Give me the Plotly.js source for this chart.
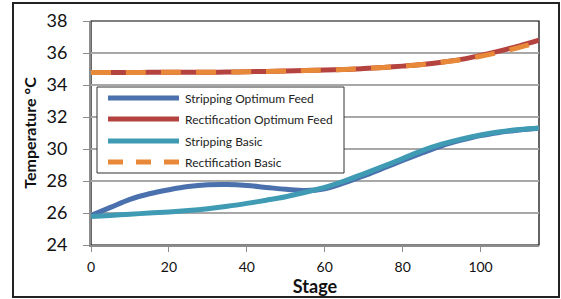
<!DOCTYPE html>
<html>
<head>
<meta charset="utf-8">
<script src="https://cdn.plot.ly/plotly-3.0.1.min.js"></script>
<style>
html,body{margin:0;padding:0;background:#fff;}
#wrap{position:relative;width:561px;height:299px;}
#chart{width:561px;height:299px;}
#frame{position:absolute;left:12px;top:2px;width:544px;height:292px;border:2px solid #222;pointer-events:none;}
</style>
</head>
<body>
<div id="wrap"><div id="chart"></div><div id="frame"></div></div>
<script>
const stages = [0,5,10,15,20,25,30,35,40,45,50,55,60,65,70,75,80,85,90,95,100,105,110,115];
const seriesNames = ["Stripping Optimum Feed","Rectification Optimum Feed","Stripping Basic","Rectification Basic"];
const strippingOptimum = [25.85,26.35,26.85,27.2,27.45,27.65,27.76,27.78,27.72,27.6,27.48,27.4,27.52,27.88,28.32,28.8,29.28,29.75,30.2,30.55,30.84,31.04,31.19,31.3];
const rectificationOptimum = [34.78,34.78,34.78,34.79,34.79,34.8,34.8,34.81,34.83,34.85,34.87,34.9,34.93,34.97,35.03,35.1,35.18,35.28,35.42,35.6,35.85,36.13,36.45,36.8];
const strippingBasic = [25.78,25.85,25.92,26.0,26.06,26.15,26.27,26.42,26.6,26.8,27.02,27.3,27.6,28.0,28.45,28.92,29.4,29.9,30.3,30.62,30.88,31.08,31.22,31.32];
const rectificationBasic = [34.78,34.78,34.78,34.79,34.79,34.8,34.8,34.81,34.83,34.85,34.87,34.9,34.93,34.97,35.03,35.1,35.18,35.28,35.42,35.58,35.8,36.05,36.35,36.68];
const yTicks = [24,26,28,30,32,34,36,38];
const xTicks = [0,20,40,60,80,100];

const colors = ["#4A71AD","#B4423F","#3F9AB4","#E8893A"];
const dashes = ["solid","solid","solid","20px,15px"];
const values = [strippingOptimum, rectificationOptimum, strippingBasic, rectificationBasic];
const order = [0,1,2,3];

const traces = order.map(i => ({
  x: stages, y: values[i], name: seriesNames[i], type: "scatter", mode: "lines",
  line: {color: colors[i], width: 5, shape: "spline", smoothing: 1.1, dash: dashes[i]},
  showlegend: false, hoverinfo: "skip"
}));

// plot area pixel geometry
const L = 91, R = 22, T = 21, B = 54, W = 561 - L - R, H = 299 - T - B;
const px = v => (v - L) / W;
const py = v => (299 - B - v) / H;

const shapes = [
  {type:"rect", xref:"paper", yref:"paper", x0:0, x1:1, y0:0, y1:1, line:{color:"#000", width:1.2}, layer:"below"},
  {type:"rect", xref:"paper", yref:"paper", x0:px(97), x1:px(344), y0:py(173), y1:py(87), line:{color:"#333", width:1}, fillcolor:"#fff", layer:"above"}
];
const annotations = [];
const rowsY = [98,119,141,162];
seriesNames.forEach((n, i) => {
  shapes.push({type:"line", xref:"paper", yref:"paper", x0:px(108), x1:px(179), y0:py(rowsY[i]), y1:py(rowsY[i]),
    line:{color:colors[i], width:5, dash: i===3 ? "15px,13px" : "solid"}, layer:"above"});
  annotations.push({xref:"paper", yref:"paper", x:px(183), y:py(rowsY[i]), xanchor:"left", yanchor:"middle",
    text:n, showarrow:false, font:{family:"Lato, 'Noto Sans', sans-serif", size:12, color:"#222"}});
});

const layout = {
  width: 561, height: 299,
  margin: {l: L, r: R, t: T, b: B, pad: 0},
  paper_bgcolor: "#fff", plot_bgcolor: "#fff",
  showlegend: false,
  xaxis: {
    range: [0, 115], tickvals: xTicks, ticktext: xTicks.map(String),
    showgrid: false, zeroline: false, showline: true, linecolor: "#8C8C8C", linewidth: 2,
    ticks: "outside", ticklen: 5, tickwidth: 1, tickcolor: "#8C8C8C",
    ticklabelstandoff: 3,
    tickfont: {family: "Lato, 'Noto Sans', sans-serif", size: 14, color: "#111"},
    title: {text: "Stage", standoff: 0, font: {family: "Lato, 'Noto Sans', sans-serif", size: 18, color: "#111", weight: "bold"}},
    automargin: false
  },
  yaxis: {
    range: [24, 38], tickvals: yTicks, ticktext: yTicks.map(String),
    showgrid: true, gridcolor: "#A8A8A8", gridwidth: 1.5, zeroline: false,
    showline: true, linecolor: "#8C8C8C", linewidth: 2,
    ticks: "outside", ticklen: 6, tickwidth: 1, tickcolor: "#8C8C8C",
    ticklabelstandoff: 12,
    tickfont: {family: "Lato, 'Noto Sans', sans-serif", size: 18, color: "#111"},
    title: {text: "Temperature °C", standoff: 6, font: {family: "Lato, 'Noto Sans', sans-serif", size: 16, color: "#111", weight: "bold"}},
    automargin: false
  },
  shapes: shapes,
  annotations: annotations
};

Plotly.newPlot("chart", traces, layout, {staticPlot: true, displayModeBar: false});
</script>
</body>
</html>
